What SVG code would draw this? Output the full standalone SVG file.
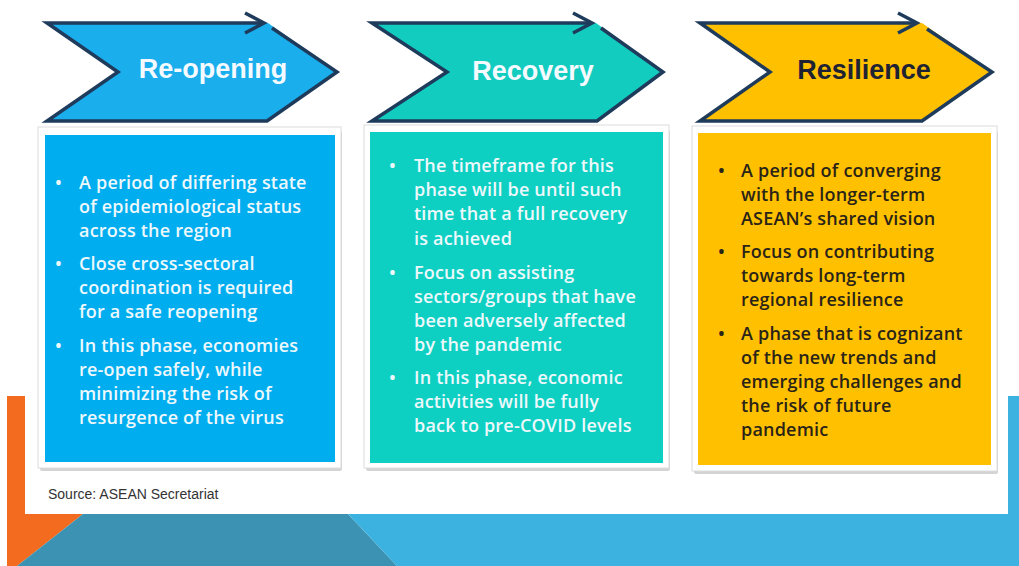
<svg xmlns="http://www.w3.org/2000/svg" width="1019" height="566" viewBox="0 0 1019 566">
<style>
.frame{fill:#fff;stroke:#dcdcdc;stroke-width:1}
.shadow{fill:#b8b8b8;opacity:0.6}
.chev{stroke:#1F3B5C;stroke-width:3.5;stroke-linejoin:miter;fill:none}
.title{font-family:"Liberation Sans",Arial,sans-serif;font-weight:bold;font-size:27px;text-anchor:middle}
.body{font-family:"Open Sans","Noto Sans",sans-serif;font-size:18px;font-weight:600;letter-spacing:0.2px}
.light{fill:#EEF8FC}
.dark{fill:#2A2418}
</style>
<rect x="0" y="0" width="1019" height="566" fill="#ffffff"/>
<g id="background">
<polygon points="7,396 25,396 25,514 83,514 17,566 7,566" fill="#F26B1F"/>
<polygon points="83,514 348,514 397,566 17,566" fill="#3B92B2"/>
<polygon points="1008,396 1019,396 1019,566 397,566 348,514 1008,514" fill="#3BB2DF"/>
</g>
<g id="reopening-header">
<polygon points="47,23 268,23 337,72 267,121 47,121 118,72" fill="#1AAEEC"/>
<polyline class="chev" points="272,28 337,72 267,121 47,121 118,72 47,23 263,23"/>
<polyline class="chev" points="245,13 264,23 245,33"/>
<text class="title" x="213" y="78" fill="#F4FAFF">Re-opening</text>
</g>
<g id="recovery-header">
<polygon points="372,23 596,23 663,72 597,121 372,121 447,72" fill="#12CCC0"/>
<polyline class="chev" points="601,28 663,72 597,121 372,121 447,72 372,23 591,23"/>
<polyline class="chev" points="573,13 592,23 573,33"/>
<text class="title" x="533" y="80" fill="#F4FAFF">Recovery</text>
</g>
<g id="resilience-header">
<polygon points="700,23 922,23 992,72 922,121 700,121 770,72" fill="#FFC000"/>
<polyline class="chev" points="927,29 992,72 922,121 700,121 770,72 700,23 917,23"/>
<polyline class="chev" points="898,13 917,23 898,33"/>
<text class="title" x="864" y="79" fill="#1E2233">Resilience</text>
</g>
<g id="reopening-box">
<rect class="shadow" x="40" y="131" width="302" height="340" rx="2"/>
<rect class="frame" x="38" y="127" width="303" height="341"/>
<rect x="45" y="135" width="290" height="327" fill="#00AEEF"/>
<g class="body light">
<text x="55" y="189">•</text>
<text x="79" y="189">A period of differing state</text>
<text x="79" y="213">of epidemiological status</text>
<text x="79" y="237">across the region</text>
<text x="55" y="270">•</text>
<text x="79" y="270">Close cross-sectoral</text>
<text x="79" y="294">coordination is required</text>
<text x="79" y="318">for a safe reopening</text>
<text x="55" y="352">•</text>
<text x="79" y="352">In this phase, economies</text>
<text x="79" y="376">re-open safely, while</text>
<text x="79" y="400">minimizing the risk of</text>
<text x="79" y="424">resurgence of the virus</text>
</g>
</g>
<g id="recovery-box">
<rect class="shadow" x="366" y="130" width="304" height="341" rx="2"/>
<rect class="frame" x="364" y="125" width="305" height="343"/>
<rect x="370" y="132" width="293" height="331" fill="#0DD0C2"/>
<g class="body light">
<text x="389" y="172">•</text>
<text x="414" y="172">The timeframe for this</text>
<text x="414" y="196">phase will be until such</text>
<text x="414" y="220">time that a full recovery</text>
<text x="414" y="245">is achieved</text>
<text x="389" y="279">•</text>
<text x="414" y="279">Focus on assisting</text>
<text x="414" y="303">sectors/groups that have</text>
<text x="414" y="327">been adversely affected</text>
<text x="414" y="351">by the pandemic</text>
<text x="389" y="384">•</text>
<text x="414" y="384">In this phase, economic</text>
<text x="414" y="408">activities will be fully</text>
<text x="414" y="432">back to pre-COVID levels</text>
</g>
</g>
<g id="resilience-box">
<rect class="shadow" x="694" y="131" width="304" height="343" rx="2"/>
<rect class="frame" x="692" y="126" width="305" height="345"/>
<rect x="698" y="133" width="293" height="332" fill="#FFC000"/>
<g class="body dark">
<text x="718" y="177">•</text>
<text x="741" y="177">A period of converging</text>
<text x="741" y="201">with the longer-term</text>
<text x="741" y="225">ASEAN’s shared vision</text>
<text x="718" y="258">•</text>
<text x="741" y="258">Focus on contributing</text>
<text x="741" y="282">towards long-term</text>
<text x="741" y="306">regional resilience</text>
<text x="718" y="340">•</text>
<text x="741" y="340">A phase that is cognizant</text>
<text x="741" y="364">of the new trends and</text>
<text x="741" y="388">emerging challenges and</text>
<text x="741" y="412">the risk of future</text>
<text x="741" y="436">pandemic</text>
</g>
</g>
<g id="connectors"></g>
<text id="source" x="48" y="499" font-family="'Liberation Sans',Arial,sans-serif" font-size="14" fill="#333333">Source: ASEAN Secretariat</text>
</svg>
